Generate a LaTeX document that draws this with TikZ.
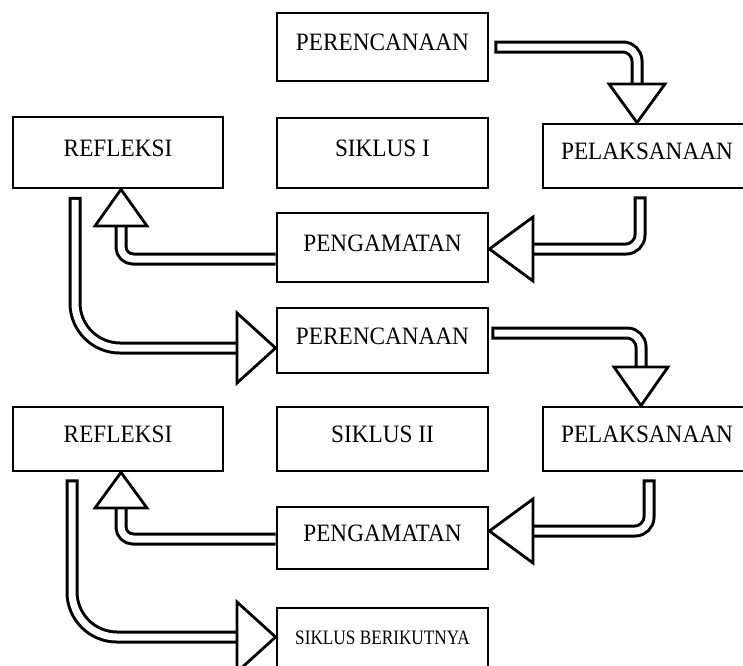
\documentclass[tikz,border=0pt]{standalone}
\usepackage{fontspec}
\setmainfont{Liberation Serif}
\newcommand{\cond}[1]{\scalebox{0.93}[1]{#1}}
\begin{document}
\begin{tikzpicture}[x=1pt,y=-1pt,
  box/.style={draw, line width=2.8pt, inner sep=0pt, minimum width=211pt,
    font=\fontsize{25}{30}\selectfont, text height=16.5pt, text depth=9pt},
  shaft/.style={draw, line width=3pt, double=white, double distance=7pt,
    line cap=rect, rounded corners=14pt},
  head/.style={draw, fill=white, line width=2.8pt, line join=miter}]
\useasboundingbox (0,0) rectangle (743,665);
\fill[white] (0,0) rectangle (743,665);
% boxes
\node[box, minimum height=68pt] (per1) at (382.5,47) {\cond{PERENCANAAN}};
\node[box, minimum height=70pt] (sik1) at (382.5,153) {\cond{SIKLUS I}};
\node[box, minimum height=64pt, minimum width=208pt] (pel1) at (647,156) {\cond{PELAKSANAAN}};
\node[box, minimum height=71pt, minimum width=210pt] (ref1) at (118,152.5) {\cond{REFLEKSI}};
\node[box, minimum height=69pt] (pen1) at (382.5,247.5) {\cond{PENGAMATAN}};
\node[box, minimum height=65pt] (per2) at (382.5,340.5) {\cond{PERENCANAAN}};
\node[box, minimum height=64pt, minimum width=210pt] (ref2) at (118,439) {\cond{REFLEKSI}};
\node[box, minimum height=64pt] (sik2) at (382.5,439) {\cond{SIKLUS II}};
\node[box, minimum height=64pt, minimum width=208pt] (pel2) at (647,439) {\cond{PELAKSANAAN}};
\node[box, minimum height=62pt] (pen2) at (382.5,538) {\cond{PENGAMATAN}};
\node[box, minimum height=68pt, font=\fontsize{20.5}{24}\selectfont, text height=13.8pt, text depth=9pt] (nxt) at (382.5,642) {\scalebox{0.84}[1]{SIKLUS BERIKUTNYA}};
% arrow head bases
\coordinate (h1) at (637,84);
\coordinate (h2) at (533,249);
\coordinate (h3) at (121,226);
\coordinate (h4) at (237,348);
\coordinate (h5) at (641,367);
\coordinate (h6) at (533,531);
\coordinate (h7) at (121,508);
\coordinate (h8) at (237,637);
% 1: perencanaan -> pelaksanaan
\draw[shaft] ([xshift=11.5pt]per1.east) -| (h1);
\draw[head] ([xshift=-28pt]h1) -- ([xshift=28pt]h1) -- (h1 |- pel1.north) -- cycle;
% 2: pelaksanaan -> pengamatan
\draw[shaft] ([xshift=-7pt,yshift=-13.5pt]pel1.south) |- (h2);
\draw[head] ([yshift=32pt]h2) -- ([yshift=-32pt]h2) -- (pen1.east |- h2) -- cycle;
% 3: pengamatan -> refleksi
\draw[shaft, line cap=butt, rounded corners=12pt] ([yshift=-11.5pt]pen1.west) -| (h3);
\draw[head] ([xshift=-26pt]h3) -- ([xshift=26pt]h3) -- (h3 |- ref1.south) -- cycle;
% 4: refleksi -> perencanaan II
\draw[shaft, rounded corners=45pt] ([xshift=-43pt,yshift=-14pt]ref1.south) |- (h4);
\draw[head] ([yshift=35pt]h4) -- ([yshift=-35pt]h4) -- (per2.west |- h4) -- cycle;
% 5: perencanaan II -> pelaksanaan II
\draw[shaft] ([xshift=8.5pt,yshift=7.5pt]per2.east) -| (h5);
\draw[head] ([xshift=-27pt]h5) -- ([xshift=27pt]h5) -- (h5 |- pel2.north) -- cycle;
% 6: pelaksanaan II -> pengamatan II
\draw[shaft] ([xshift=2pt,yshift=-13.5pt]pel2.south) |- (h6);
\draw[head] ([yshift=32pt]h6) -- ([yshift=-32pt]h6) -- (pen2.east |- h6) -- cycle;
% 7: pengamatan II -> refleksi II
\draw[shaft, line cap=butt, rounded corners=12pt] ([yshift=-1pt]pen2.west) -| (h7);
\draw[head] ([xshift=-26pt]h7) -- ([xshift=26pt]h7) -- (h7 |- ref2.south) -- cycle;
% 8: refleksi II -> siklus berikutnya
\draw[shaft, rounded corners=45pt] ([xshift=-46pt,yshift=-13.5pt]ref2.south) |- (h8);
\draw[head] ([yshift=35pt]h8) -- ([yshift=-35pt]h8) -- (nxt.west |- h8) -- cycle;
\end{tikzpicture}
\end{document}
